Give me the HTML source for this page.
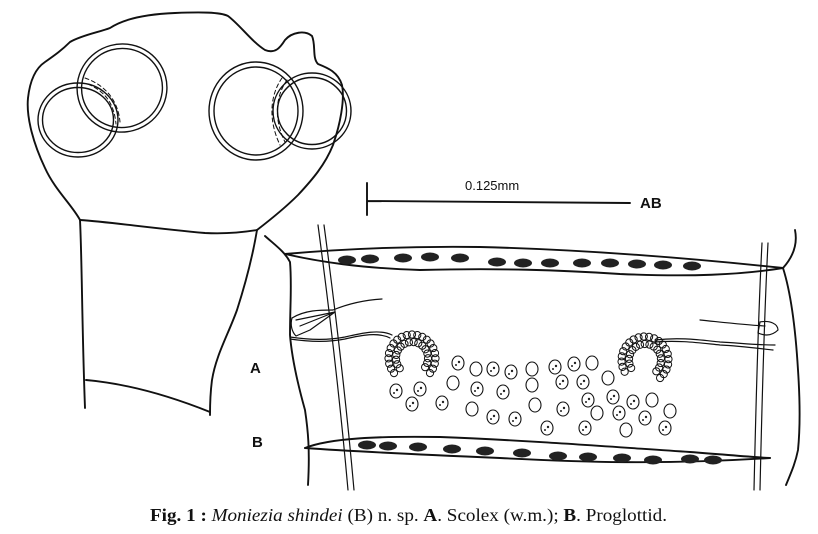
<!DOCTYPE html>
<html><head><meta charset="utf-8"><style>
html,body{margin:0;padding:0;background:#fff;width:818px;height:534px;overflow:hidden}
svg{display:block}
</style></head><body>
<svg id="s" width="818" height="534" viewBox="0 0 818 534" xmlns="http://www.w3.org/2000/svg" fill="none" stroke="#111" stroke-width="1.9" stroke-linecap="round" stroke-linejoin="round">
<path d="M80,220 C72,205 55,190 45,168 C34,145 26,118 28,98 C30,80 36,68 45,62 C55,55 62,50 70,42 C82,35 100,32 110,28 C125,18 150,14 175,13 C200,12 220,12 228,16 C240,25 252,42 265,50 C275,54 280,48 285,40 C292,32 305,30 312,36 C316,45 312,58 318,64 C328,68 338,72 342,85 C345,100 340,125 333,145 C325,165 312,180 298,195 C285,208 270,220 257,230"/>
<path d="M80,220 C110,222 150,228 205,233 C225,234 245,232 257,230"/>
<path d="M80,220 C82,260 82,330 85,408"/>
<path d="M257,230 C252,260 245,285 237,310 C228,335 216,355 212,380 C210,395 210,405 210,415"/>
<path d="M86,380 C120,383 160,392 210,412"/>
<g stroke-width="1.4">
<ellipse cx="78" cy="120" rx="40" ry="37"/><ellipse cx="78" cy="120" rx="35.5" ry="32.5"/>
<ellipse cx="122" cy="88" rx="45" ry="44" transform="rotate(-15 122 88)"/><ellipse cx="122" cy="88" rx="40.5" ry="39.5" transform="rotate(-15 122 88)"/>
<ellipse cx="256" cy="111" rx="47" ry="49"/><ellipse cx="256" cy="111" rx="42" ry="44"/>
<ellipse cx="312" cy="111" rx="39" ry="38"/><ellipse cx="312" cy="111" rx="34.5" ry="33.5"/>
</g>
<g stroke-width="1" stroke-dasharray="4 3">
<path d="M85,78 C105,85 118,100 120,122"/><path d="M88,84 C106,92 114,104 116,124"/>
<path d="M282,78 C270,95 268,120 280,145"/><path d="M287,80 C275,97 274,120 285,142"/>
</g>
<path d="M367,183 L367,215 M367,201 L630,203"/>
<text x="465" y="190" font-family="Liberation Sans,sans-serif" font-size="13" fill="#111" stroke="none">0.125mm</text>
<text x="640" y="208" font-family="Liberation Sans,sans-serif" font-size="15" font-weight="bold" fill="#111" stroke="none">AB</text>
<text x="250" y="373" font-family="Liberation Sans,sans-serif" font-size="15" font-weight="bold" fill="#111" stroke="none">A</text>
<text x="252" y="447" font-family="Liberation Sans,sans-serif" font-size="15" font-weight="bold" fill="#111" stroke="none">B</text>
<path d="M265,236 C275,245 285,252 290,262 C292,285 290,305 290,335 C292,360 298,385 305,410 C308,430 310,450 308,485"/>
<path d="M795,230 C798,245 792,258 783,268 C790,290 795,320 798,370 C800,400 800,430 798,450 C795,465 790,475 786,485"/>
<path d="M285,254 C330,250 400,246 480,247 C560,249 660,255 783,268"/>
<path d="M285,254 C320,262 360,268 420,270 C500,268 560,270 620,274 C690,277 740,275 783,268"/>
<path d="M305,448 C330,438 380,436 440,437 C520,440 600,446 690,452 C730,455 750,457 770,458"/>
<path d="M305,448 C360,452 430,455 500,458 C580,462 660,465 770,458"/>
<path d="M318,225 C328,300 340,400 348,490" stroke-width="1.2"/>
<path d="M324,225 C334,300 346,400 354,490" stroke-width="1.2"/>
<path d="M762,243 C758,320 756,400 754,490" stroke-width="1.2"/>
<path d="M768,243 C764,320 762,400 760,490" stroke-width="1.2"/>
<g stroke-width="1.2">
<path d="M292,318 C305,310 320,310 333,310 C350,303 365,300 382,299"/>
<path d="M292,318 C290,325 292,332 296,336 L310,330 L335,312"/>
<path d="M296,320 L335,312 M300,326 L335,312"/>
<path d="M290,337 C310,340 330,340 345,337 C362,333 380,329 392,335"/>
<path d="M290,339 C310,342 330,342 345,339 C362,335 378,332 390,338"/>
<path d="M700,320 C720,322 745,325 765,326"/>
<path d="M760,322 C770,320 778,324 778,330 C772,336 765,336 758,333 Z"/>
<path d="M655,340 C680,337 700,340 720,342 C740,343 755,345 775,345"/>
<path d="M655,342 C680,340 700,343 720,345 C740,346 755,348 773,350"/>
</g>
<g id="dots" fill="#222" stroke="none"></g>
<g id="beads" stroke-width="1"></g>
<g id="eggs" stroke-width="1.1"></g>
<text x="150" y="521" textLength="517" lengthAdjust="spacingAndGlyphs" font-family="Liberation Serif,serif" font-size="18" fill="#111" stroke="none"><tspan font-weight="bold">Fig. 1 :</tspan> <tspan font-style="italic">Moniezia shindei</tspan> (B) n. sp. <tspan font-weight="bold">A</tspan>. Scolex (w.m.); <tspan font-weight="bold">B</tspan>. Proglottid.</text>
</svg>
<script>
var NS="http://www.w3.org/2000/svg";
function el(p,t,a){var e=document.createElementNS(NS,t);for(var k in a)e.setAttribute(k,a[k]);document.getElementById(p).appendChild(e);}
var td=[[347,260],[370,259],[403,258],[430,257],[460,258],[497,262],[523,263],[550,263],[582,263],[610,263],[637,264],[663,265],[692,266]];
var bd=[[367,445],[388,446],[418,447],[452,449],[485,451],[522,453],[558,456],[588,457],[622,458],[653,460],[690,459],[713,460]];
td.concat(bd).forEach(function(p){el("dots","ellipse",{cx:p[0],cy:p[1],rx:9,ry:4.5});});
function shoe(cx,cy,a0,a1){for(var r=0;r<2;r++){var R=16+r*7.5;for(var a=a0;a<=a1;a+=(r?13:17)){var t=a*Math.PI/180;el("beads","circle",{cx:cx+R*Math.cos(t),cy:cy+R*Math.sin(t),r:3.6});}}}
shoe(412,358,140,400);
shoe(645,360,150,410);
var eg=[[458,363],[476,369],[493,369],[511,372],[532,369],[555,367],[574,364],[592,363],[396,391],[420,389],[453,383],[477,389],[503,392],[532,385],[562,382],[583,382],[608,378],[412,404],[442,403],[472,409],[493,417],[515,419],[535,405],[563,409],[588,400],[597,413],[613,397],[633,402],[652,400],[619,413],[645,418],[670,411],[547,428],[585,428],[626,430],[665,428]];
eg.forEach(function(p,i){el("eggs","ellipse",{cx:p[0],cy:p[1],rx:6,ry:7});if(i%3!=1){el("eggs","circle",{cx:p[0]+1,cy:p[1]-1,r:1.2,fill:"#222",stroke:"none"});el("eggs","circle",{cx:p[0]-2,cy:p[1]+2,r:1,fill:"#222",stroke:"none"});}});
</script>
</body></html>
